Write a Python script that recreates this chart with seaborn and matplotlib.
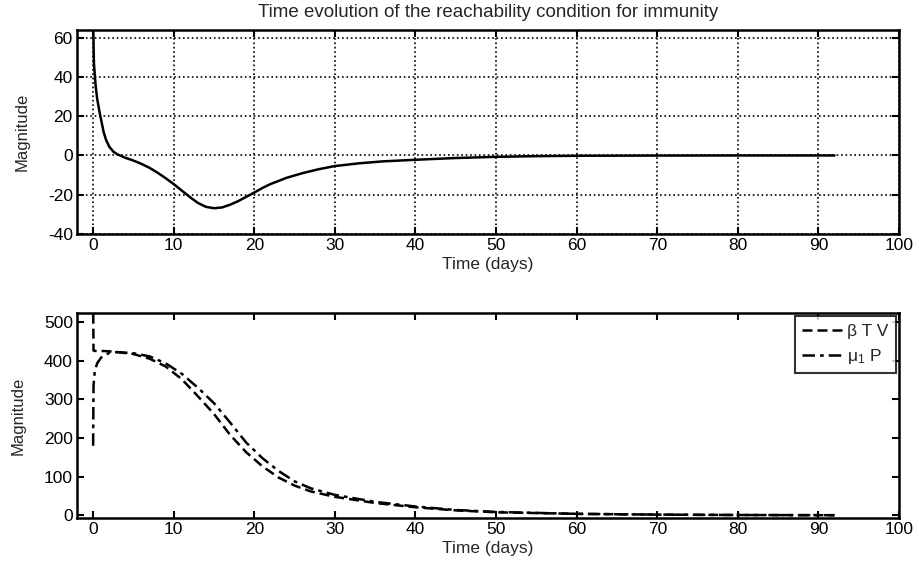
import numpy as np
import pandas as pd
import seaborn as sns
import matplotlib
matplotlib.use('Agg')
import matplotlib.pyplot as plt

# ------------------- Data -------------------
t_top = [0.0, 0.02, 0.1, 0.3, 0.5, 0.8, 1.0, 1.3, 1.6, 2.0, 2.5, 3.0, 3.5, 4.0, 5.0, 6.0, 7.0,
         8.0, 9.0, 10.0, 11.0, 12.0, 13.0, 14.0, 15.0, 16.0, 17.0, 18.0, 19.0, 20.0,
         21.0, 22.0, 24.0, 26.0, 28.0, 30.0, 33.0, 36.0, 40.0, 45.0, 50.0, 55.0,
         60.0, 70.0, 80.0, 92.0]
reach = [80.0, 64.0, 47.0, 36.0, 29.0, 22.0, 18.0, 12.0, 8.0, 4.5, 2.0, 0.6, -0.3, -1.2, -2.6,
         -4.3, -6.3, -8.8, -11.6, -14.6, -17.9, -21.2, -24.2, -26.2, -26.9, -26.5,
         -25.1, -23.3, -21.1, -18.9, -16.6, -14.6, -11.4, -9.0, -7.0, -5.4, -4.0,
         -3.0, -2.2, -1.3, -0.7, -0.35, -0.15, -0.05, 0.0, 0.0]

t_bot = [0.0, 0.05, 0.2, 0.5, 1.0, 2.0, 3.0, 5.0, 7.0, 9.0, 11.0, 13.0, 15.0, 17.0, 19.0,
         21.0, 23.0, 25.0, 27.0, 30.0, 35.0, 40.0, 45.0, 50.0, 60.0, 70.0, 80.0, 92.0]
beta_tv = [560.0, 426.0, 425.0, 425.0, 425.0, 424.0, 422.0, 417.0, 405.0, 385.0, 352.0,
           308.0, 262.0, 208.0, 163.0, 127.0, 98.0, 77.0, 62.0, 48.0, 32.0, 21.0, 13.0,
           8.0, 4.0, 2.0, 1.0, 0.5]
mu1_p = [180.0, 335.0, 372.0, 393.0, 408.0, 420.0, 422.0, 419.0, 411.0, 393.0, 366.0,
         330.0, 290.0, 240.0, 188.0, 148.0, 115.0, 88.0, 70.0, 53.0, 35.0, 23.0, 14.0,
         9.0, 4.0, 2.0, 1.0, 0.5]

df_top = pd.DataFrame({'t': t_top, 'v': reach})
df_bot = pd.concat([
    pd.DataFrame({'t': t_bot, 'v': beta_tv, 's': 'β T V'}),
    pd.DataFrame({'t': t_bot, 'v': mu1_p, 's': r'$\mu_1$ P'}),
])

# ------------------- Style -------------------
sns.set_style('ticks')
plt.rcParams['font.family'] = ['Liberation Sans', 'DejaVu Sans']
plt.rcParams['mathtext.default'] = 'regular'
plt.rcParams['axes.linewidth'] = 1.8
plt.rcParams['axes.edgecolor'] = 'black'
plt.rcParams['axes.unicode_minus'] = False

fig = plt.figure(figsize=(9.2, 5.65), dpi=100)
ax1 = fig.add_axes([0.0837, 0.586, 0.8935, 0.361])
ax2 = fig.add_axes([0.0837, 0.083, 0.8935, 0.363])

fs = 12.5

def style_axis(ax):
    ax.set_xlim(-2, 100)
    ax.set_xticks(range(0, 101, 10))
    ax.tick_params(direction='in', top=True, right=True, length=5, width=1.5,
                   labelsize=fs, colors='black', pad=3)
    ax.set_xlabel('Time (days)', fontsize=fs, labelpad=3)
    ax.set_ylabel('Magnitude', fontsize=fs - 0.5, labelpad=13)

# ------------------- Top: reachability condition -------------------
sns.lineplot(data=df_top, x='t', y='v', ax=ax1, color='black', linewidth=1.8, sort=False)
style_axis(ax1)
ax1.set_ylim(-40, 64)
ax1.set_yticks(range(-40, 61, 20))
ax1.grid(True, color='black', linestyle=':', linewidth=1.2)
ax1.set_title('Time evolution of the reachability condition for immunity', fontsize=13.5, pad=9)

# ------------------- Bottom: beta T V vs mu1 P -------------------
sns.lineplot(data=df_bot, x='t', y='v', hue='s', style='s', ax=ax2, sort=False,
             palette=['black', 'black'], dashes=[(4, 2), (5, 2, 1.5, 2)], linewidth=1.8)
style_axis(ax2)
ax2.set_ylim(-7, 523)
ax2.set_yticks(range(0, 501, 100))
leg = ax2.legend(loc='upper right', fontsize=fs, frameon=True, fancybox=False,
                 edgecolor='black', handlelength=2.3, handletextpad=0.3,
                 borderpad=0.4, labelspacing=0.5, borderaxespad=0.2)
leg.get_frame().set_linewidth(1.5)
leg.set_title(None)

fig.savefig('out.png', dpi=100)
